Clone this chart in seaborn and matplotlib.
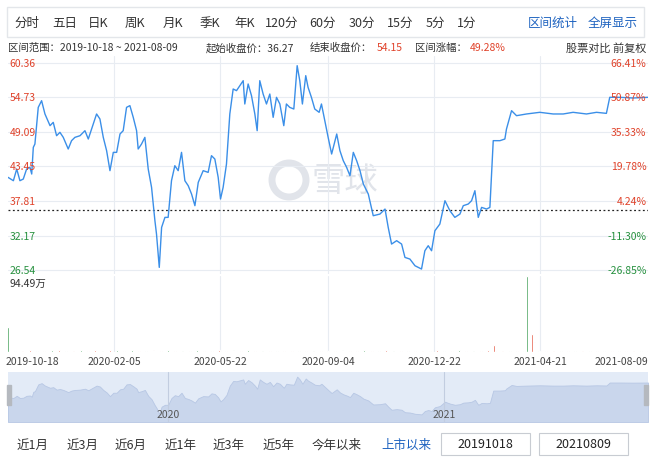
import numpy as np
import pandas as pd
import matplotlib
matplotlib.use("Agg")
import matplotlib.pyplot as plt
import seaborn as sns
from matplotlib.patches import Rectangle, Circle

# price series (trading day index, close)
days = [0, 3.7, 6, 8.2, 10.5, 12.8, 15.1, 16.3, 17.4, 18.5, 20.8, 23.1, 25.4, 28.9, 31.1, 33.4, 35.7, 38,
        41.4, 43.7, 46, 49.5, 52.9, 55.2, 57.5, 60.9, 63.2, 65.5, 67.8, 70.1, 72.4, 74.7, 77, 79.2, 81.5,
        83.8, 86.1, 88.4, 89.5, 91.8, 94.1, 96.4, 98.7, 101, 102.1, 104, 105.6, 107.9, 110.1, 112.4, 114.7,
        117, 119.3, 121.6, 123.9, 126.2, 128.5, 130.8, 134.2, 137.6, 139.9, 142.2, 144.5, 146.1, 147.9,
        150.2, 152.5, 154.8, 157.1, 159.4, 161.7, 162.8, 165.1, 167.4, 169.7, 171.3, 173.1, 175.4, 177.7,
        180, 182.3, 184.6, 186.9, 189.6, 191.4, 193.7, 196.5, 198.8, 200.6, 202.4, 204.7, 206.3, 208.6,
        210.9, 213.9, 215.5, 217.8, 220.1, 222.5, 226, 228.2, 230.5, 232.8, 235.1, 237.4, 239.7, 242,
        244.3, 247.7, 251.1, 255.7, 259.2, 261.4, 263.7, 267.2, 270.6, 272.9, 276.3, 279.8, 284.3, 286.6,
        288.9, 291.2, 293.5, 296.9, 300.4, 303.8, 307.2, 310.7, 313, 316.4, 318.7, 321, 323.3, 325.6, 329,
        331.3, 333.6, 338.2, 341.6, 342.7, 346.2, 349.6, 356.5, 365.6, 374.8, 381.7, 388.5, 397.7, 404.6,
        411.4, 413.7, 420.6, 429.8, 440]
prices = [41.68, 41.13, 43.04, 41.13, 41.40, 43.04, 43.31, 42.22, 46.58, 47.12, 53.11, 54.20, 52.03, 50.12,
          50.66, 48.48, 49.03, 48.21, 46.31, 47.67, 48.21, 48.48, 49.30, 47.94, 49.57, 52.03, 51.21, 48.21,
          46.03, 42.77, 45.76, 45.76, 48.76, 49.30, 53.11, 53.39, 51.48, 49.30, 46.31, 47.12, 48.21, 43.04,
          40.04, 34.60, 32.41, 26.97, 33.50, 35.14, 35.14, 41.13, 43.58, 42.77, 45.76, 41.13, 40.31, 38.95,
          37.05, 40.86, 42.77, 42.49, 45.22, 44.67, 41.68, 38.14, 40.04, 43.85, 52.03, 56.11, 55.84, 56.66,
          57.47, 53.66, 56.93, 55.02, 52.03, 49.30, 57.47, 55.29, 53.66, 55.29, 51.48, 54.75, 53.66, 50.12,
          53.66, 53.11, 52.84, 59.92, 57.47, 53.66, 58.29, 56.38, 54.75, 52.84, 52.30, 53.66, 50.94, 48.21,
          45.49, 48.76, 46.03, 44.40, 43.31, 41.95, 45.76, 44.40, 42.77, 40.59, 38.95, 35.41, 35.68, 36.50,
          33.50, 30.78, 31.33, 30.78, 28.60, 28.33, 27.24, 26.70, 29.69, 30.51, 29.69, 32.96, 34.05, 37.86,
          36.23, 35.14, 35.68, 37.05, 37.32, 37.86, 39.50, 35.14, 36.77, 36.50, 36.77, 47.67, 47.67, 47.94,
          49.57, 52.57, 51.75, 52.03, 52.30, 52.03, 52.03, 52.30, 52.03, 52.30, 52.13, 54.75, 54.75, 54.64,
          54.75]

start_price = 36.27
price_ticks = [60.36, 54.73, 49.09, 43.45, 37.81, 32.17, 26.54]
pct_ticks = ["66.41%", "50.87%", "35.33%", "19.78%", "4.24%", "-11.30%", "-26.85%"]
date_pos = [0, 73, 146, 220, 293, 366, 440]
date_labels = ["2019-10-18", "2020-02-05", "2020-05-22", "2020-09-04", "2020-12-22", "2021-04-21", "2021-08-09"]

# volume (万)
vol_days = list(range(0, 441, 5))
vol_vals = [2, 1.5, 1.8, 2.5, 1.6, 1.4, 2.2, 3, 1.7, 1.5, 2.0, 1.8, 2.8, 1.6, 2.4, 1.9, 1.5, 2.1, 1.7, 1.4,
            2.0, 1.6, 2.6, 1.5, 1.8, 1.4, 1.9, 1.6, 1.5, 2.2, 1.7, 2.0, 1.6, 2.4, 1.8, 1.5, 1.6, 1.4, 1.7,
            1.5, 1.6, 1.4, 1.5, 1.6, 1.5, 1.8, 2.1, 1.6, 1.5, 1.9, 1.4, 1.7, 2.0, 1.5, 1.6, 1.8, 1.4, 1.5,
            1.7, 2.2, 1.6, 1.5, 1.9, 1.4, 1.6, 1.7, 2.4, 1.5, 1.6, 1.8, 1.4, 1.5, 1.7, 1.6, 1.5, 1.4, 1.6,
            1.5, 1.7, 1.4, 1.6, 1.5, 1.4, 1.6, 1.5, 1.7, 1.4, 1.5, 1.6]
vol_up = "rgrrgrgrgrgrrgrgrgrgrrgrgrgrgrrgrgrgrgrrgrgrgrgrrgrgrgrgrrgrgrgrgrrgrgrgrgrrgrgrgrgrgr"
spike_days = [0, 334, 357, 360, 362]
spike_vals = [31, 9, 94.49, 23, 12]
spike_up = "grgrr"

toolbar = ["分时", "五日", "日K", "周K", "月K", "季K", "年K", "120分", "60分", "30分", "15分", "5分", "1分"]
toolbar_x = [27, 65, 98, 135, 173, 210, 245, 282, 323, 362, 400, 435, 467]
ranges = ["近1月", "近3月", "近6月", "近1年", "近3年", "近5年", "今年以来", "上市以来"]
ranges_x = [33, 83, 131, 181, 229, 279, 337, 406]

RED = "#e0432b"
GREEN = "#27913f"
BLUE = "#3b8fe8"
LINK = "#1e63c0"
GRID = "#e8ecf2"

sns.set_theme(style="white")
plt.rcParams['font.family'] = ['Noto Sans CJK SC', 'DejaVu Sans']

W, H = 651, 460
fig = plt.figure(figsize=(W / 100, H / 100), dpi=100)


def px_axes(l, t, r, b, z=1):
    a = fig.add_axes([l / W, 1 - b / H, (r - l) / W, (b - t) / H], zorder=z)
    return a


# background layer for watermark
bg = fig.add_axes([0, 0, 1, 1], zorder=0)
bg.set_xlim(0, W)
bg.set_ylim(H, 0)
bg.axis("off")
bg.add_patch(Circle((289, 181), 17, fill=False, ec="#e1e4ea", lw=5))
bg.text(312, 181, "雪球", fontsize=24, color="#e1e4ea", ha="left", va="center")

ov = fig.add_axes([0, 0, 1, 1], zorder=5)
ov.set_xlim(0, W)
ov.set_ylim(H, 0)
ov.axis("off")
ov.patch.set_alpha(0)
ov.add_patch(Rectangle((7, 8), 637, 30, fill=False, ec="#e3e6ea", lw=1))
for t, x in zip(toolbar, toolbar_x):
    ov.text(x, 23, t, ha="center", va="center", fontsize=9, color="#333333")
ov.text(553, 23, "区间统计", ha="center", va="center", fontsize=9, color=LINK)
ov.text(613, 23, "全屏显示", ha="center", va="center", fontsize=9, color=LINK)

info = [(8, "区间范围：2019-10-18 ~ 2021-08-09", "#333333"), (206, "起始收盘价：36.27", "#333333"),
        (310, "结束收盘价：", "#333333"), (377, "54.15", RED), (415, "区间涨幅：", "#333333"),
        (470, "49.28%", RED)]
for x, t, c in info:
    ov.text(x, 48, t, ha="left", va="center", fontsize=7.5, color=c)
ov.text(646, 48, "股票对比 前复权", ha="right", va="center", fontsize=8, color="#333333")

df = pd.DataFrame({"day": days, "price": prices})

# main price panel
ax = px_axes(8, 57, 648, 275, z=2)
ax.patch.set_alpha(0)
ax.set_xlim(0, 440)
ax.set_ylim(25.89, 61.5)
for p in price_ticks:
    ax.axhline(p, color=GRID, lw=0.8, zorder=0)
for d in date_pos[1:-1]:
    ax.axvline(d, color=GRID, lw=0.8, zorder=0)
ax.axhline(start_price, color="#222222", lw=0.9, ls=(0, (1.5, 2)), zorder=1)
sns.lineplot(data=df, x="day", y="price", ax=ax, color=BLUE, lw=1.0, zorder=3)
for p, pct in zip(price_ticks, pct_ticks):
    c = RED if p > start_price else GREEN
    ax.text(1, p, f"{p:.2f}", color=c, fontsize=7.5, ha="left", va="center")
    ax.text(439, p, pct, color=c, fontsize=7.5, ha="right", va="center")
ax.set_xticks([])
ax.set_yticks([])
ax.set_xlabel("")
ax.set_ylabel("")
for s in ax.spines.values():
    s.set_visible(False)

# volume panel
vx = px_axes(8, 277, 648, 353, z=2)
vx.set_xlim(0, 440)
vx.set_ylim(0, 94.49)
for d in date_pos[1:-1]:
    vx.axvline(d, color=GRID, lw=0.8, zorder=0)
vx.bar(vol_days, vol_vals, width=1.2, color=[RED if c == "r" else GREEN for c in vol_up])
vx.bar(spike_days, spike_vals, width=1.2, color=[RED if c == "r" else GREEN for c in spike_up])
vx.text(1, 92, "94.49万", fontsize=7.5, color="#333333", ha="left", va="top")
vx.set_xticks([])
vx.set_yticks([])
for s in vx.spines.values():
    s.set_visible(False)
for d, lab in zip(date_pos, date_labels):
    xp = 8 + d / 440 * 640
    ha = "left" if d == 0 else ("right" if d == 440 else "center")
    ov.text(xp if d else 6, 362, lab, ha=ha, va="center", fontsize=7.5, color="#444444")

# navigator
nx = px_axes(8, 373, 648, 423, z=2)
nx.set_xlim(0, 440)
nx.set_ylim(20, 64)
nx.set_facecolor("#e3ebf7")
nx.fill_between(days, prices, 20, color="#c9d6ec", lw=0.6, edgecolor="#b7c7e4")
for d, lab in [(110, "2020"), (300, "2021")]:
    nx.axvline(d, color="#c2cde0", lw=0.8)
    nx.text(d, 23, lab, ha="center", va="bottom", fontsize=7.5, color="#555555")
nx.set_xticks([])
nx.set_yticks([])
for s in nx.spines.values():
    s.set_visible(False)
ov.add_patch(Rectangle((7, 386), 4, 20, color="#b5b9bf"))
ov.add_patch(Rectangle((644, 386), 4, 20, color="#b5b9bf"))

# range buttons
for t, x in zip(ranges, ranges_x):
    ov.text(x, 445, t, ha="center", va="center", fontsize=9, color=LINK if t == "上市以来" else "#333333")
ov.add_patch(Rectangle((441, 434), 89, 22, fill=False, ec="#c8ccd2", lw=0.8))
ov.add_patch(Rectangle((539, 434), 89, 22, fill=False, ec="#c8ccd2", lw=0.8))
ov.text(485, 445, "20191018", ha="center", va="center", fontsize=9, color="#222222")
ov.text(583, 445, "20210809", ha="center", va="center", fontsize=9, color="#222222")

fig.savefig("out.png", dpi=100)
